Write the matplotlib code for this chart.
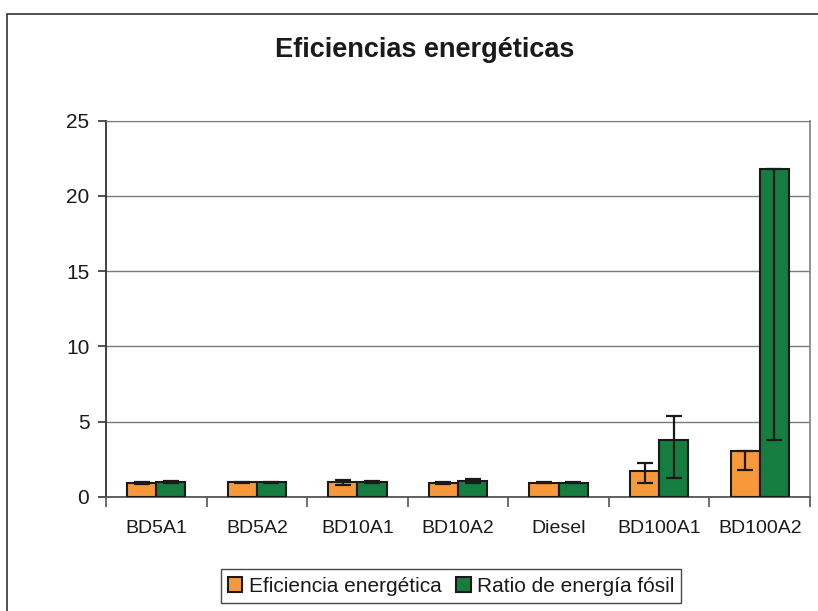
import matplotlib
matplotlib.use("Agg")
import matplotlib.pyplot as plt
import numpy as np
from matplotlib.patches import Rectangle

plt.rcParams['font.family'] = ['Liberation Sans', 'DejaVu Sans']

categories = ["BD5A1", "BD5A2", "BD10A1", "BD10A2", "Diesel", "BD100A1", "BD100A2"]
series_names = ["Eficiencia energética", "Ratio de energía fósil"]

eficiencia = [0.93, 0.96, 0.96, 0.92, 0.93, 1.71, 3.06]
eficiencia_err_low = [0.06, 0.05, 0.15, 0.07, 0.05, 0.80, 1.28]
eficiencia_err_high = [0.06, 0.05, 0.15, 0.07, 0.05, 0.51, 0.0]

ratio_fosil = [0.98, 0.96, 0.96, 1.04, 0.93, 3.79, 21.8]
ratio_err_low = [0.06, 0.05, 0.06, 0.13, 0.05, 2.53, 18.03]
ratio_err_high = [0.06, 0.05, 0.06, 0.13, 0.05, 1.60, 0.0]

y_ticks = [0, 5, 10, 15, 20, 25]

orange = "#F7993A"
green = "#147D3F"

fig = plt.figure(figsize=(8.18, 6.11), dpi=100)
fig.patch.set_facecolor("white")

# outer chart frame
fig.patches.append(Rectangle((7 / 818, -0.05), 1.2, (611 - 14) / 611 + 0.05,
                             transform=fig.transFigure, fill=False,
                             edgecolor="#333333", linewidth=1.2))

ax = fig.add_axes([106 / 818, (611 - 496.7) / 611, (810 - 106) / 818, (496.7 - 120.7) / 611])

x = np.arange(len(categories))
w = 0.29
err_kw = dict(ecolor="#1a1a1a", elinewidth=1.6, capsize=5.8, capthick=1.6, zorder=4)

ax.bar(x - w / 2, eficiencia, w, color=orange, edgecolor="#1a1a1a", linewidth=1.5,
       yerr=[eficiencia_err_low, eficiencia_err_high], error_kw=err_kw,
       label=series_names[0], zorder=3)
ax.bar(x + w / 2, ratio_fosil, w, color=green, edgecolor="#1a1a1a", linewidth=1.5,
       yerr=[ratio_err_low, ratio_err_high], error_kw=err_kw,
       label=series_names[1], zorder=3)

ax.set_xlim(-0.5, len(categories) - 0.5)
ax.set_ylim(0, 25)
ax.set_yticks(y_ticks)
ax.set_yticklabels([str(v) for v in y_ticks], fontsize=15, color="#1a1a1a")
ax.yaxis.grid(True, color="#7a7a7a", linewidth=1.0, zorder=0)
ax.set_axisbelow(True)

ax.set_xticks(x)
ax.set_xticklabels(categories, fontsize=14, color="#1a1a1a")
ax.tick_params(axis="x", length=0, pad=17)
ax.set_xticks(np.arange(-0.5, len(categories)), minor=True)
ax.tick_params(axis="x", which="minor", length=7, width=1.2, color="#555555", direction="out")
ax.tick_params(axis="y", length=6, width=1.2, color="#333333", direction="out", pad=6)

ax.spines["left"].set_color("#333333")
ax.spines["left"].set_linewidth(1.3)
ax.spines["bottom"].set_color("#555555")
ax.spines["bottom"].set_linewidth(1.3)
ax.spines["top"].set_color("#7a7a7a")
ax.spines["right"].set_color("#8a8a8a")
ax.spines["right"].set_linewidth(1.3)

fig.text(425 / 818, 1 - 50 / 611, "Eficiencias energéticas", ha="center", va="center",
         fontsize=19.5, fontweight="bold", color="#1a1a1a")

leg = fig.legend(loc="center", bbox_to_anchor=(451 / 818, 1 - 586 / 611), ncol=2,
                 fontsize=15, frameon=True, fancybox=False, edgecolor="#1a1a1a",
                 handlelength=0.7, handleheight=0.7, handletextpad=0.3,
                 columnspacing=0.7, borderpad=0.35)
leg.get_frame().set_linewidth(1.0)
for t in leg.get_texts():
    t.set_color("#1a1a1a")

fig.savefig("out.png", dpi=100, facecolor="white")
